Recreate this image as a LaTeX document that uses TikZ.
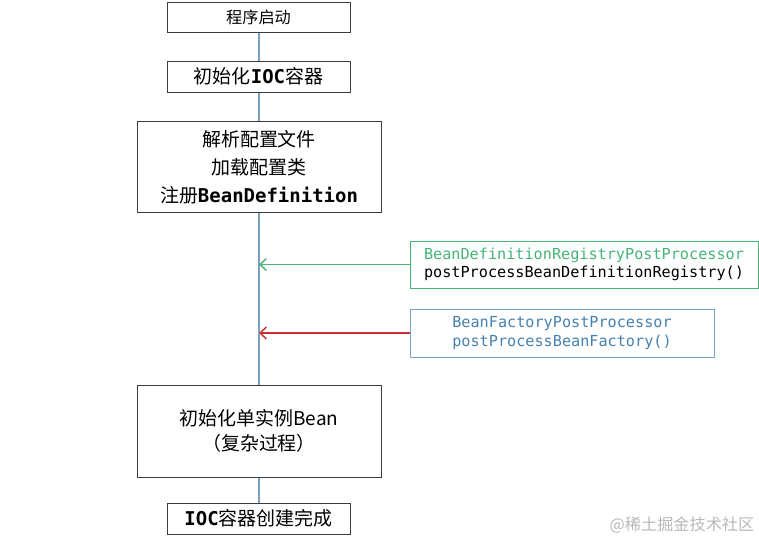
\documentclass[tikz,border=0pt]{standalone}
\usepackage{fontspec}
\newfontfamily\cjk{Noto Sans CJK SC}
\newfontfamily\code{DejaVu Sans Mono}
\usetikzlibrary{arrows.meta}
\definecolor{spinecol}{RGB}{125,160,190}
\definecolor{regcol}{RGB}{70,180,120}
\definecolor{factcol}{RGB}{120,165,205}
\definecolor{facttext}{RGB}{70,130,175}
\definecolor{redarrow}{RGB}{205,45,45}
\definecolor{boxcol}{RGB}{60,60,60}
\newcommand{\cn}[1]{{\cjk #1}}
\newcommand{\cd}[1]{{\code\bfseries #1}}

\begin{document}
\begin{tikzpicture}
    \useasboundingbox (0,0) rectangle (18.975,13.525);
    \tikzstyle{every node}=[inner sep=0pt,font=\cjk\fontsize{13.5}{20}\selectfont];
    \tikzstyle{step box}=[draw=boxcol,line width=0.7pt,fill=white,align=center];
    \tikzstyle{hook box}=[draw,line width=0.7pt,fill=white,align=center,font=\code\fontsize{10.8}{13}\selectfont];

    % main flow
    \draw[spinecol,line width=1pt] (6.475,13.1) -- (6.475,0.5625);

    \node[step box,minimum width=4.575cm,minimum height=0.75cm,font=\cjk\fontsize{11.5}{14}\selectfont] (start) at (6.4625,13.1) {程序启动};
    \node[step box,minimum width=4.575cm,minimum height=0.775cm] (init) at (6.4625,11.6125) {初始化\cd{IOC}容器};
    \node[step box,minimum width=6.1cm,minimum height=2.275cm] (parse) at (6.475,9.35) {解析配置文件\\加载配置类\\注册\cd{BeanDefinition}};
    \node[step box,minimum width=6.1cm,minimum height=2.3cm,font=\cjk\fontsize{13.5}{18}\selectfont] (beans) at (6.475,2.75) {初始化单实例Bean\\（复杂过程）};
    \node[step box,minimum width=4.575cm,minimum height=0.775cm] (done) at (6.4625,0.5625) {\cd{IOC}容器创建完成};

    % post processors
    \node[hook box,draw=regcol,minimum width=8.7cm,minimum height=1.175cm] (registry) at (14.6,6.9125) {\textcolor{regcol}{BeanDefinitionRegistryPostProcessor}\\postProcessBeanDefinitionRegistry()};
    \node[hook box,draw=factcol,text=facttext,minimum width=7.6cm,minimum height=1.2cm] (factory) at (14.05,5.2) {BeanFactoryPostProcessor\\postProcessBeanFactory()};

    \draw[-{Straight Barb[length=1.6mm,width=3mm]},regcol,line width=1pt] (registry.west) -- (registry.west -| parse.south);
    \draw[-{Straight Barb[length=1.6mm,width=3mm]},redarrow,line width=1pt] (factory.west) -- (factory.west -| parse.south);

    \node[text=black!28,font=\cjk\fontsize{11.5}{14}\selectfont] (mark) at (17.05,0.4) {@稀土掘金技术社区};
\end{tikzpicture}
\end{document}
